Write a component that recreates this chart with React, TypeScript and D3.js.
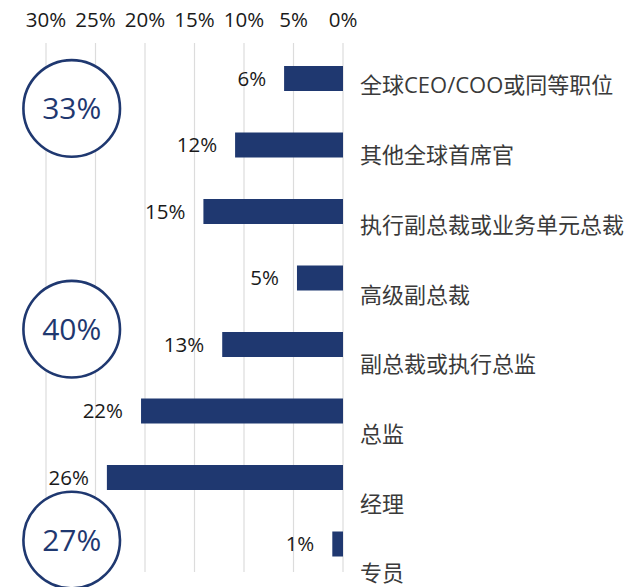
import React from "react";
import * as d3 from "d3";

const categories = [
  "全球CEO/COO或同等职位",
  "其他全球首席官",
  "执行副总裁或业务单元总裁",
  "高级副总裁",
  "副总裁或执行总监",
  "总监",
  "经理",
  "专员",
];
const barValues = [5.95, 10.9, 14.1, 4.65, 12.2, 20.4, 23.85, 1.08];
const valueLabels = ["6%", "12%", "15%", "5%", "13%", "22%", "26%", "1%"];
const tickValues = [30, 25, 20, 15, 10, 5, 0];
const tickLabels = ["30%", "25%", "20%", "15%", "10%", "5%", "0%"];
const groupTotals = ["33%", "40%", "27%"];
// layout: where each group circle sits, in category-index units
const groupAnchor = [0.45, 3.77, 6.94];

const W = 644;
const H = 587;
const NAVY = "#1f3870";
const FONT = "'Open Sans', 'Noto Sans CJK SC', sans-serif";

export default function App() {
  const x = d3.scaleLinear().domain([0, 30]).range([343, 46]);
  const yBar = d3.scalePoint<string>().domain(categories).range([78.5, 544]);
  const yLab = d3.scalePoint<string>().domain(categories).range([85, 573]);
  const yIdx = d3.scaleLinear().domain([0, 7]).range([78.5, 544]);
  const barH = 25;

  return (
    <svg
      width={W}
      height={H}
      style={{ position: "absolute", left: 0, top: 0, background: "#fff" }}
      fontFamily={FONT}
    >
      {tickValues.map((t) => (
        <line
          key={"g" + t}
          x1={x(t)}
          x2={x(t)}
          y1={43}
          y2={572}
          stroke="#dcdcdc"
          strokeWidth={1.2}
        />
      ))}
      {tickValues.map((t, i) => (
        <text
          key={"t" + t}
          x={x(t)}
          y={27}
          textAnchor="middle"
          fontSize={20.5}
          fill="#1a1a1a"
        >
          {tickLabels[i]}
        </text>
      ))}
      {categories.map((c, i) => (
        <rect
          key={"b" + c}
          x={x(barValues[i])}
          y={(yBar(c) as number) - barH / 2}
          width={x(0) - x(barValues[i])}
          height={barH}
          fill={NAVY}
        />
      ))}
      {categories.map((c, i) => (
        <text
          key={"v" + c}
          x={x(barValues[i]) - 18}
          y={yBar(c) as number}
          dy="0.36em"
          textAnchor="end"
          fontSize={20.5}
          fill="#1a1a1a"
        >
          {valueLabels[i]}
        </text>
      ))}
      {categories.map((c) => (
        <text
          key={"c" + c}
          x={360}
          y={yLab(c) as number}
          dy="0.38em"
          fontSize={22}
          fill="#3a3a3a"
        >
          {c}
        </text>
      ))}
      {groupTotals.map((g, i) => (
        <g key={"o" + g} transform={`translate(71.7, ${yIdx(groupAnchor[i])})`}>
          <circle r={48.3} fill="#fff" stroke={NAVY} strokeWidth={2.6} />
          <text dy="0.36em" textAnchor="middle" fontSize={30} fill={NAVY}>
            {g}
          </text>
        </g>
      ))}
    </svg>
  );
}
